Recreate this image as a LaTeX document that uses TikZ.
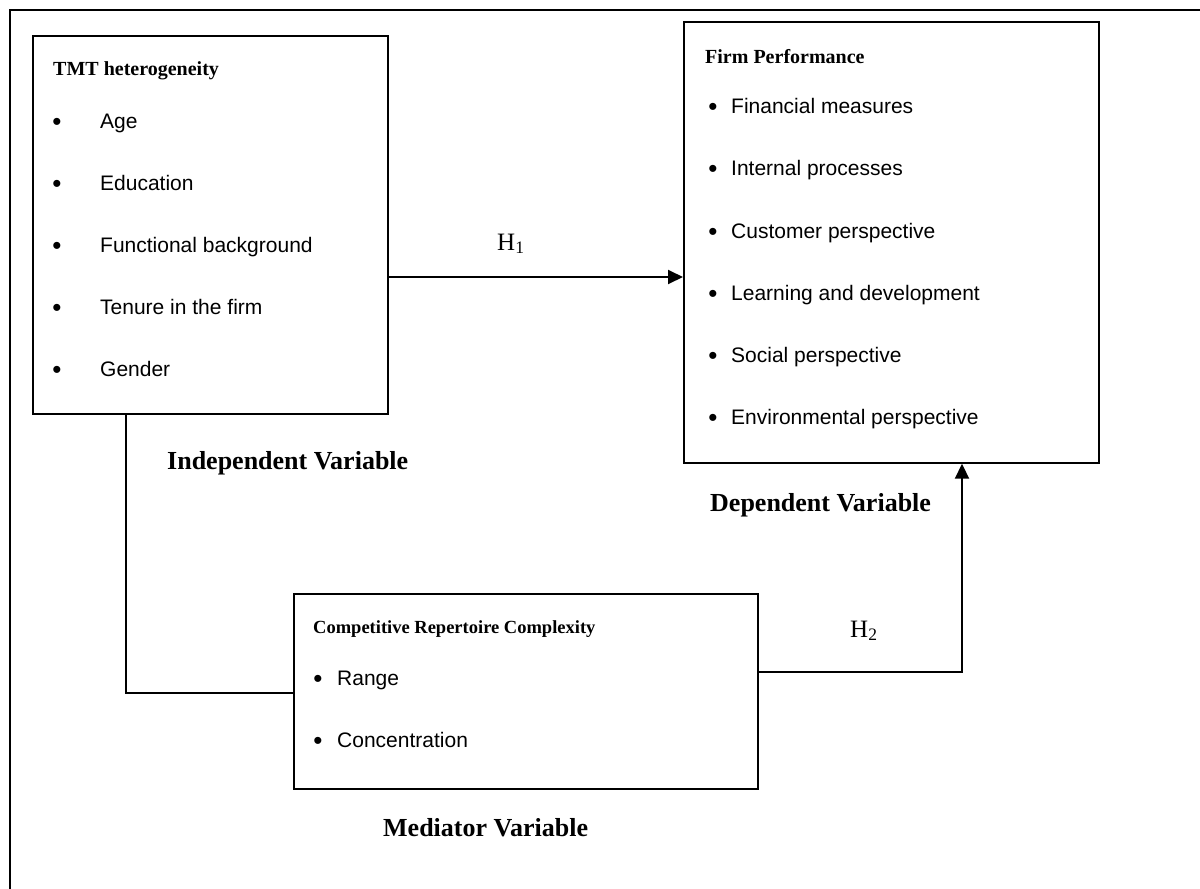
\documentclass[tikz,border=0pt]{standalone}
\usepackage{fontspec}
\setmainfont{Liberation Serif}
\newfontfamily\arialf{Liberation Sans}
\usetikzlibrary{arrows.meta}
\begin{document}
\begin{tikzpicture}[x=1pt,y=-1pt,
  boxst/.style={draw, line width=1.7pt, inner sep=0pt, anchor=north west},
  item/.style={font=\arialf\fontsize{21}{25}\selectfont, inner sep=0pt, anchor=base west},
  bul/.style={font=\arialf\fontsize{26}{25}\selectfont, inner sep=0pt, anchor=base},
  ttl/.style={font=\bfseries\fontsize{20}{24}\selectfont, inner sep=0pt, anchor=base west},
  lbl/.style={font=\bfseries\fontsize{26}{30}\selectfont, inner sep=0pt, anchor=base west},
  hyp/.style={font=\fontsize{25}{30}\selectfont, inner sep=0pt, anchor=base west},
  conn/.style={line width=1.9pt},
  arr/.style={conn, -{Triangle[length=15pt,width=14pt]}}]
\useasboundingbox (0,0) rectangle (1200,889);
\fill[white] (0,0) rectangle (1200,889);
% outer frame (right and bottom edges lie outside the picture)
\draw[line width=2.4pt] (10,889) -- (10,10) -- (1200,10);

% boxes
\node[boxst, minimum width=355pt, minimum height=378pt] (tmt) at (32,35) {};
\node[boxst, minimum width=415pt, minimum height=441pt] (firm) at (683,21) {};
\node[boxst, minimum width=464pt, minimum height=195pt] (med) at (293,593) {};

% TMT box text
\node[ttl] (tmtt) at (53,75) {TMT heterogeneity};
\foreach \y/\t [count=\i] in {128/Age,190/Education,252/Functional background,314/Tenure in the firm,376/Gender}{
  \node[bul] (tb\i) at (57,\y+2) {•};
  \node[item] (ti\i) at (100,\y) {\t};
}

% Firm box text
\node[ttl] (firmt) at (705,63) {Firm Performance};
\foreach \y/\t [count=\i] in {113/Financial measures,175/Internal processes,238/Customer perspective,300/Learning and development,362/Social perspective,424/Environmental perspective}{
  \node[bul] (fb\i) at (713,\y+2) {•};
  \node[item] (fi\i) at (731,\y) {\t};
}

% Mediator box text
\node[ttl, font=\bfseries\fontsize{18.5}{22}\selectfont] (medt) at (313,633) {Competitive Repertoire Complexity};
\node[bul] (mb1) at (318,687) {•};
\node[item] (mi1) at (337,685) {Range};
\node[bul] (mb2) at (318,749) {•};
\node[item] (mi2) at (337,747) {Concentration};

% variable labels
\node[lbl] (indep) at (167,469) {Independent Variable};
\node[lbl] (dep) at (710,511) {Dependent Variable};
\node[lbl] (medl) at (383,836) {Mediator Variable};

% hypotheses
\node[hyp] (h1l) at (497,250) {H\textsubscript{1}};
\node[hyp] (h2l) at (850,637) {H\textsubscript{2}};

% connectors
\coordinate (h1y) at (0,277);
\draw[arr] (tmt.east |- h1y) -- (firm.west |- h1y);
\coordinate (h2y) at (0,672);
\coordinate (h2x) at (962,0);
\draw[arr] (med.east |- h2y) -- (h2x |- h2y) -- (h2x |- firm.south);
\coordinate (lcx) at (126,0);
\coordinate (lcy) at (0,693);
\draw[conn] (lcx |- tmt.south) -- (lcx |- lcy) -- (med.west |- lcy);
\end{tikzpicture}
\end{document}
